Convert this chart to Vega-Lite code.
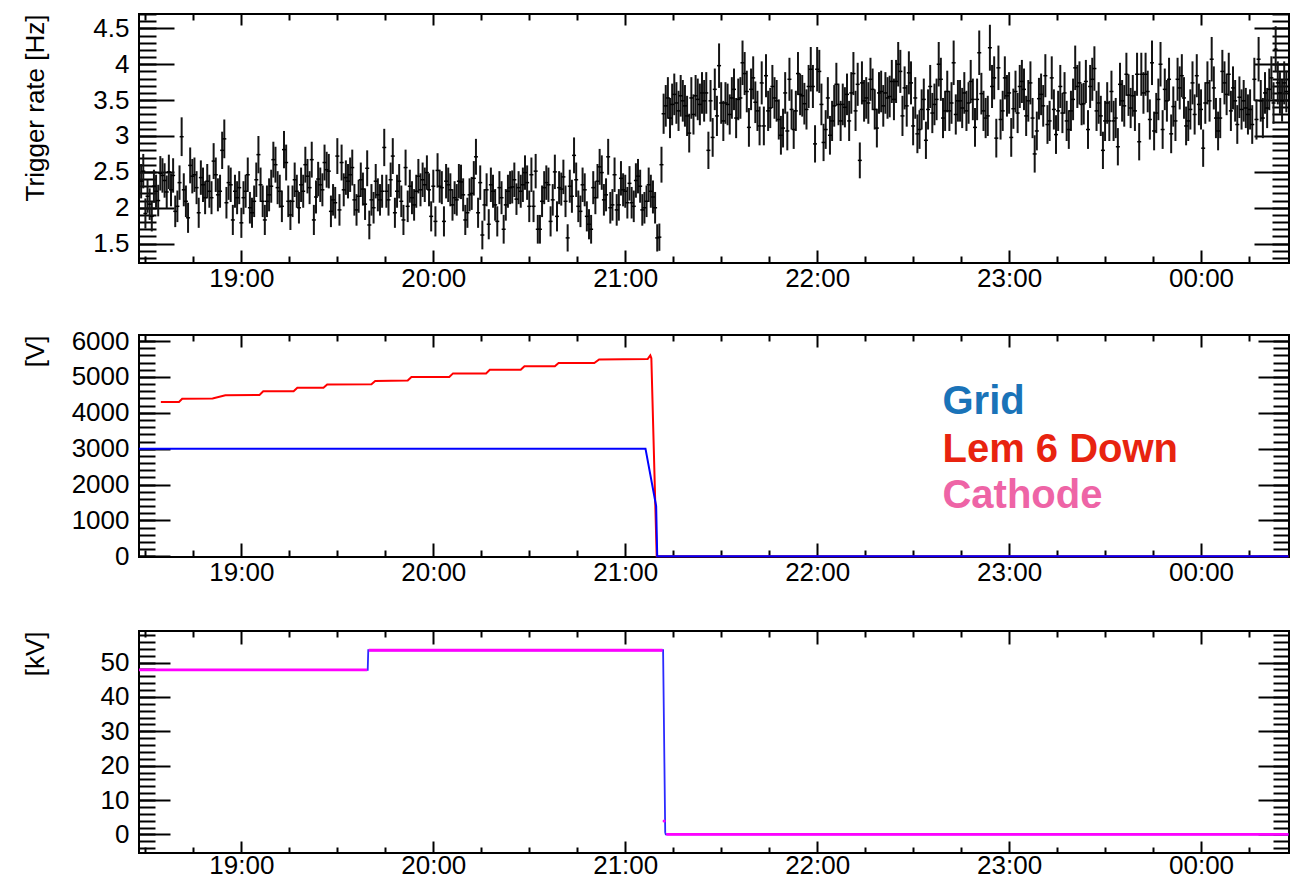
{
"$schema": "https://vega.github.io/schema/vega-lite/v6.json",
"padding": {"left": 20, "top": 12, "right": 5, "bottom": 0},
"spacing": 35,
"config": {
  "view": {"stroke": "black", "strokeWidth": 2},
  "axis": {"domain": false, "grid": false, "tickColor": "black", "tickWidth": 2, "labelColor": "black", "labelFont": "Liberation Sans", "labelFontSize": 26, "titleFont": "Liberation Sans", "titleFontSize": 26, "titleFontWeight": "normal", "titleColor": "black", "labelOverlap": false, "labelFlush": false}
},
"datasets": {"rate": [
{"t":"2020-01-01T18:28:40","r":2.37,"e":0.24},{"t":"2020-01-01T18:29:20","r":2.51,"e":0.24},{"t":"2020-01-01T18:30:00","r":1.92,"e":0.21},{"t":"2020-01-01T18:30:40","r":2.16,"e":0.23},{"t":"2020-01-01T18:31:20","r":2.05,"e":0.22},{"t":"2020-01-01T18:32:00","r":1.88,"e":0.21},{"t":"2020-01-01T18:32:40","r":2.30,"e":0.23},{"t":"2020-01-01T18:33:20","r":2.23,"e":0.23},{"t":"2020-01-01T18:34:00","r":2.10,"e":0.22},{"t":"2020-01-01T18:34:40","r":2.48,"e":0.24},
{"t":"2020-01-01T18:35:20","r":2.45,"e":0.24},{"t":"2020-01-01T18:36:00","r":2.38,"e":0.24},{"t":"2020-01-01T18:36:40","r":2.22,"e":0.23},{"t":"2020-01-01T18:37:20","r":2.50,"e":0.24},{"t":"2020-01-01T18:38:00","r":2.25,"e":0.23},{"t":"2020-01-01T18:38:40","r":2.45,"e":0.24},{"t":"2020-01-01T18:39:20","r":1.95,"e":0.22},{"t":"2020-01-01T18:40:00","r":2.02,"e":0.22},{"t":"2020-01-01T18:40:40","r":2.35,"e":0.24},{"t":"2020-01-01T18:41:20","r":2.99,"e":0.27},
{"t":"2020-01-01T18:42:00","r":2.25,"e":0.23},{"t":"2020-01-01T18:42:40","r":2.09,"e":0.22},{"t":"2020-01-01T18:43:20","r":1.86,"e":0.21},{"t":"2020-01-01T18:44:00","r":2.59,"e":0.25},{"t":"2020-01-01T18:44:40","r":2.44,"e":0.24},{"t":"2020-01-01T18:45:20","r":2.46,"e":0.24},{"t":"2020-01-01T18:46:00","r":2.28,"e":0.23},{"t":"2020-01-01T18:46:40","r":1.93,"e":0.21},{"t":"2020-01-01T18:47:20","r":2.42,"e":0.24},{"t":"2020-01-01T18:48:00","r":2.32,"e":0.24},
{"t":"2020-01-01T18:48:40","r":2.14,"e":0.23},{"t":"2020-01-01T18:49:20","r":2.37,"e":0.24},{"t":"2020-01-01T18:50:00","r":2.23,"e":0.23},{"t":"2020-01-01T18:50:40","r":2.14,"e":0.23},{"t":"2020-01-01T18:51:20","r":2.65,"e":0.25},{"t":"2020-01-01T18:52:00","r":2.46,"e":0.24},{"t":"2020-01-01T18:52:40","r":2.18,"e":0.23},{"t":"2020-01-01T18:53:20","r":2.23,"e":0.23},{"t":"2020-01-01T18:54:00","r":2.80,"e":0.26},{"t":"2020-01-01T18:54:40","r":2.96,"e":0.27},
{"t":"2020-01-01T18:55:20","r":2.07,"e":0.22},{"t":"2020-01-01T18:56:00","r":2.35,"e":0.24},{"t":"2020-01-01T18:56:40","r":2.32,"e":0.24},{"t":"2020-01-01T18:57:20","r":1.83,"e":0.21},{"t":"2020-01-01T18:58:00","r":2.23,"e":0.23},{"t":"2020-01-01T18:58:40","r":2.14,"e":0.23},{"t":"2020-01-01T18:59:20","r":2.28,"e":0.23},{"t":"2020-01-01T19:00:00","r":1.79,"e":0.21},{"t":"2020-01-01T19:00:40","r":2.14,"e":0.23},{"t":"2020-01-01T19:01:20","r":2.23,"e":0.23},
{"t":"2020-01-01T19:02:00","r":2.46,"e":0.24},{"t":"2020-01-01T19:02:40","r":2.00,"e":0.22},{"t":"2020-01-01T19:03:20","r":1.93,"e":0.21},{"t":"2020-01-01T19:04:00","r":2.09,"e":0.22},{"t":"2020-01-01T19:04:40","r":2.39,"e":0.24},{"t":"2020-01-01T19:05:20","r":2.74,"e":0.26},{"t":"2020-01-01T19:06:00","r":2.32,"e":0.24},{"t":"2020-01-01T19:06:40","r":2.09,"e":0.22},{"t":"2020-01-01T19:07:20","r":1.83,"e":0.21},{"t":"2020-01-01T19:08:00","r":2.09,"e":0.22},
{"t":"2020-01-01T19:08:40","r":2.18,"e":0.23},{"t":"2020-01-01T19:09:20","r":2.30,"e":0.23},{"t":"2020-01-01T19:10:00","r":2.67,"e":0.25},{"t":"2020-01-01T19:10:40","r":2.60,"e":0.25},{"t":"2020-01-01T19:11:20","r":2.28,"e":0.23},{"t":"2020-01-01T19:12:00","r":2.23,"e":0.23},{"t":"2020-01-01T19:12:40","r":2.02,"e":0.22},{"t":"2020-01-01T19:13:20","r":2.81,"e":0.26},{"t":"2020-01-01T19:14:00","r":2.63,"e":0.25},{"t":"2020-01-01T19:14:40","r":2.09,"e":0.22},
{"t":"2020-01-01T19:15:20","r":1.90,"e":0.21},{"t":"2020-01-01T19:16:00","r":2.09,"e":0.22},{"t":"2020-01-01T19:16:40","r":2.39,"e":0.24},{"t":"2020-01-01T19:17:20","r":2.23,"e":0.23},{"t":"2020-01-01T19:18:00","r":2.00,"e":0.22},{"t":"2020-01-01T19:18:40","r":2.32,"e":0.24},{"t":"2020-01-01T19:19:20","r":2.23,"e":0.23},{"t":"2020-01-01T19:20:00","r":2.60,"e":0.25},{"t":"2020-01-01T19:20:40","r":2.44,"e":0.24},{"t":"2020-01-01T19:21:20","r":2.28,"e":0.23},
{"t":"2020-01-01T19:22:00","r":2.67,"e":0.25},{"t":"2020-01-01T19:22:40","r":1.83,"e":0.21},{"t":"2020-01-01T19:23:20","r":2.15,"e":0.23},{"t":"2020-01-01T19:24:00","r":2.40,"e":0.24},{"t":"2020-01-01T19:24:40","r":2.32,"e":0.24},{"t":"2020-01-01T19:25:20","r":2.25,"e":0.23},{"t":"2020-01-01T19:26:00","r":2.63,"e":0.25},{"t":"2020-01-01T19:26:40","r":2.53,"e":0.25},{"t":"2020-01-01T19:27:20","r":2.51,"e":0.24},{"t":"2020-01-01T19:28:00","r":1.95,"e":0.22},
{"t":"2020-01-01T19:28:40","r":2.11,"e":0.22},{"t":"2020-01-01T19:29:20","r":2.07,"e":0.22},{"t":"2020-01-01T19:30:00","r":2.72,"e":0.25},{"t":"2020-01-01T19:30:40","r":1.97,"e":0.22},{"t":"2020-01-01T19:31:20","r":2.63,"e":0.25},{"t":"2020-01-01T19:32:00","r":2.25,"e":0.23},{"t":"2020-01-01T19:32:40","r":2.42,"e":0.24},{"t":"2020-01-01T19:33:20","r":2.37,"e":0.24},{"t":"2020-01-01T19:34:00","r":2.46,"e":0.24},{"t":"2020-01-01T19:34:40","r":2.56,"e":0.25},
{"t":"2020-01-01T19:35:20","r":2.11,"e":0.22},{"t":"2020-01-01T19:36:00","r":1.97,"e":0.22},{"t":"2020-01-01T19:36:40","r":2.16,"e":0.23},{"t":"2020-01-01T19:37:20","r":2.39,"e":0.24},{"t":"2020-01-01T19:38:00","r":2.26,"e":0.23},{"t":"2020-01-01T19:38:40","r":2.05,"e":0.22},{"t":"2020-01-01T19:39:20","r":2.55,"e":0.25},{"t":"2020-01-01T19:40:00","r":1.76,"e":0.20},{"t":"2020-01-01T19:40:40","r":2.11,"e":0.22},{"t":"2020-01-01T19:41:20","r":2.00,"e":0.22},
{"t":"2020-01-01T19:42:00","r":2.37,"e":0.24},{"t":"2020-01-01T19:42:40","r":2.18,"e":0.23},{"t":"2020-01-01T19:43:20","r":2.11,"e":0.22},{"t":"2020-01-01T19:44:00","r":2.23,"e":0.23},{"t":"2020-01-01T19:44:40","r":2.84,"e":0.26},{"t":"2020-01-01T19:45:20","r":2.23,"e":0.23},{"t":"2020-01-01T19:46:00","r":2.11,"e":0.22},{"t":"2020-01-01T19:46:40","r":2.39,"e":0.24},{"t":"2020-01-01T19:47:20","r":2.72,"e":0.25},{"t":"2020-01-01T19:48:00","r":1.93,"e":0.21},
{"t":"2020-01-01T19:48:40","r":2.23,"e":0.23},{"t":"2020-01-01T19:49:20","r":2.37,"e":0.24},{"t":"2020-01-01T19:50:00","r":2.09,"e":0.22},{"t":"2020-01-01T19:50:40","r":1.83,"e":0.21},{"t":"2020-01-01T19:51:20","r":2.56,"e":0.25},{"t":"2020-01-01T19:52:00","r":2.02,"e":0.22},{"t":"2020-01-01T19:52:40","r":2.30,"e":0.23},{"t":"2020-01-01T19:53:20","r":2.14,"e":0.23},{"t":"2020-01-01T19:54:00","r":2.04,"e":0.22},{"t":"2020-01-01T19:54:40","r":2.23,"e":0.23},
{"t":"2020-01-01T19:55:20","r":2.44,"e":0.24},{"t":"2020-01-01T19:56:00","r":2.25,"e":0.23},{"t":"2020-01-01T19:56:40","r":2.39,"e":0.24},{"t":"2020-01-01T19:57:20","r":2.32,"e":0.24},{"t":"2020-01-01T19:58:00","r":2.49,"e":0.24},{"t":"2020-01-01T19:58:40","r":2.25,"e":0.23},{"t":"2020-01-01T19:59:20","r":1.88,"e":0.21},{"t":"2020-01-01T20:00:00","r":2.30,"e":0.23},{"t":"2020-01-01T20:00:40","r":1.81,"e":0.21},{"t":"2020-01-01T20:01:20","r":2.52,"e":0.24},
{"t":"2020-01-01T20:02:00","r":2.30,"e":0.23},{"t":"2020-01-01T20:02:40","r":2.28,"e":0.23},{"t":"2020-01-01T20:03:20","r":1.81,"e":0.21},{"t":"2020-01-01T20:04:00","r":2.37,"e":0.24},{"t":"2020-01-01T20:04:40","r":2.32,"e":0.24},{"t":"2020-01-01T20:05:20","r":2.25,"e":0.23},{"t":"2020-01-01T20:06:00","r":2.04,"e":0.22},{"t":"2020-01-01T20:06:40","r":2.14,"e":0.23},{"t":"2020-01-01T20:07:20","r":2.11,"e":0.22},{"t":"2020-01-01T20:08:00","r":2.37,"e":0.24},
{"t":"2020-01-01T20:08:40","r":2.36,"e":0.24},{"t":"2020-01-01T20:09:20","r":2.18,"e":0.23},{"t":"2020-01-01T20:10:00","r":1.83,"e":0.21},{"t":"2020-01-01T20:10:40","r":1.93,"e":0.21},{"t":"2020-01-01T20:11:20","r":2.18,"e":0.23},{"t":"2020-01-01T20:12:00","r":2.20,"e":0.23},{"t":"2020-01-01T20:12:40","r":2.41,"e":0.24},{"t":"2020-01-01T20:13:20","r":2.71,"e":0.25},{"t":"2020-01-01T20:14:00","r":1.93,"e":0.21},{"t":"2020-01-01T20:14:40","r":2.35,"e":0.24},
{"t":"2020-01-01T20:15:20","r":1.62,"e":0.20},{"t":"2020-01-01T20:16:00","r":2.04,"e":0.22},{"t":"2020-01-01T20:16:40","r":2.25,"e":0.23},{"t":"2020-01-01T20:17:20","r":1.77,"e":0.21},{"t":"2020-01-01T20:18:00","r":2.32,"e":0.24},{"t":"2020-01-01T20:18:40","r":2.23,"e":0.23},{"t":"2020-01-01T20:19:20","r":2.04,"e":0.22},{"t":"2020-01-01T20:20:00","r":1.81,"e":0.21},{"t":"2020-01-01T20:20:40","r":2.28,"e":0.23},{"t":"2020-01-01T20:21:20","r":2.14,"e":0.23},
{"t":"2020-01-01T20:22:00","r":1.70,"e":0.20},{"t":"2020-01-01T20:22:40","r":2.04,"e":0.22},{"t":"2020-01-01T20:23:20","r":2.23,"e":0.23},{"t":"2020-01-01T20:24:00","r":2.28,"e":0.23},{"t":"2020-01-01T20:24:40","r":2.29,"e":0.23},{"t":"2020-01-01T20:25:20","r":2.39,"e":0.24},{"t":"2020-01-01T20:26:00","r":2.12,"e":0.22},{"t":"2020-01-01T20:26:40","r":2.28,"e":0.23},{"t":"2020-01-01T20:27:20","r":2.23,"e":0.23},{"t":"2020-01-01T20:28:00","r":2.32,"e":0.24},
{"t":"2020-01-01T20:28:40","r":2.49,"e":0.24},{"t":"2020-01-01T20:29:20","r":2.35,"e":0.24},{"t":"2020-01-01T20:30:00","r":2.02,"e":0.22},{"t":"2020-01-01T20:30:40","r":2.46,"e":0.24},{"t":"2020-01-01T20:31:20","r":2.02,"e":0.22},{"t":"2020-01-01T20:32:00","r":2.51,"e":0.24},{"t":"2020-01-01T20:32:40","r":1.70,"e":0.20},{"t":"2020-01-01T20:33:20","r":1.70,"e":0.20},{"t":"2020-01-01T20:34:00","r":2.09,"e":0.22},{"t":"2020-01-01T20:34:40","r":2.28,"e":0.23},
{"t":"2020-01-01T20:35:20","r":2.35,"e":0.24},{"t":"2020-01-01T20:36:00","r":2.32,"e":0.24},{"t":"2020-01-01T20:36:40","r":1.81,"e":0.21},{"t":"2020-01-01T20:37:20","r":2.11,"e":0.22},{"t":"2020-01-01T20:38:00","r":2.50,"e":0.24},{"t":"2020-01-01T20:38:40","r":1.88,"e":0.21},{"t":"2020-01-01T20:39:20","r":2.28,"e":0.23},{"t":"2020-01-01T20:40:00","r":2.26,"e":0.23},{"t":"2020-01-01T20:40:40","r":2.43,"e":0.24},{"t":"2020-01-01T20:41:20","r":2.09,"e":0.22},
{"t":"2020-01-01T20:42:00","r":1.58,"e":0.19},{"t":"2020-01-01T20:42:40","r":2.30,"e":0.23},{"t":"2020-01-01T20:43:20","r":2.16,"e":0.23},{"t":"2020-01-01T20:44:00","r":2.73,"e":0.25},{"t":"2020-01-01T20:44:40","r":2.39,"e":0.24},{"t":"2020-01-01T20:45:20","r":2.02,"e":0.22},{"t":"2020-01-01T20:46:00","r":1.95,"e":0.22},{"t":"2020-01-01T20:46:40","r":2.32,"e":0.24},{"t":"2020-01-01T20:47:20","r":2.25,"e":0.23},{"t":"2020-01-01T20:48:00","r":1.88,"e":0.21},
{"t":"2020-01-01T20:48:40","r":1.77,"e":0.21},{"t":"2020-01-01T20:49:20","r":1.70,"e":0.20},{"t":"2020-01-01T20:50:00","r":2.28,"e":0.23},{"t":"2020-01-01T20:50:40","r":2.14,"e":0.23},{"t":"2020-01-01T20:51:20","r":2.37,"e":0.24},{"t":"2020-01-01T20:52:00","r":2.57,"e":0.25},{"t":"2020-01-01T20:52:40","r":2.49,"e":0.24},{"t":"2020-01-01T20:53:20","r":2.11,"e":0.22},{"t":"2020-01-01T20:54:00","r":2.18,"e":0.23},{"t":"2020-01-01T20:54:40","r":2.71,"e":0.25},
{"t":"2020-01-01T20:55:20","r":2.00,"e":0.22},{"t":"2020-01-01T20:56:00","r":2.04,"e":0.22},{"t":"2020-01-01T20:56:40","r":2.46,"e":0.24},{"t":"2020-01-01T20:57:20","r":1.97,"e":0.22},{"t":"2020-01-01T20:58:00","r":2.04,"e":0.22},{"t":"2020-01-01T20:58:40","r":2.41,"e":0.24},{"t":"2020-01-01T20:59:20","r":2.25,"e":0.23},{"t":"2020-01-01T21:00:00","r":2.23,"e":0.23},{"t":"2020-01-01T21:00:40","r":2.07,"e":0.22},{"t":"2020-01-01T21:01:20","r":2.34,"e":0.24},
{"t":"2020-01-01T21:02:00","r":2.07,"e":0.22},{"t":"2020-01-01T21:02:40","r":2.02,"e":0.22},{"t":"2020-01-01T21:03:20","r":2.38,"e":0.24},{"t":"2020-01-01T21:04:00","r":2.44,"e":0.24},{"t":"2020-01-01T21:04:40","r":2.30,"e":0.23},{"t":"2020-01-01T21:05:20","r":1.97,"e":0.22},{"t":"2020-01-01T21:06:00","r":2.00,"e":0.22},{"t":"2020-01-01T21:06:40","r":2.09,"e":0.22},{"t":"2020-01-01T21:07:20","r":2.32,"e":0.24},{"t":"2020-01-01T21:08:00","r":2.23,"e":0.23},
{"t":"2020-01-01T21:08:40","r":2.15,"e":0.23},{"t":"2020-01-01T21:09:20","r":2.00,"e":0.22},{"t":"2020-01-01T21:10:00","r":1.58,"e":0.19},{"t":"2020-01-01T21:10:40","r":1.59,"e":0.19},{"t":"2020-01-01T21:11:20","r":2.60,"e":0.25},{"t":"2020-01-01T21:12:00","r":3.31,"e":0.28},{"t":"2020-01-01T21:12:40","r":3.42,"e":0.29},{"t":"2020-01-01T21:13:20","r":3.53,"e":0.29},{"t":"2020-01-01T21:14:00","r":3.25,"e":0.28},{"t":"2020-01-01T21:14:40","r":3.44,"e":0.29},
{"t":"2020-01-01T21:15:20","r":3.58,"e":0.29},{"t":"2020-01-01T21:16:00","r":3.46,"e":0.29},{"t":"2020-01-01T21:16:40","r":3.35,"e":0.28},{"t":"2020-01-01T21:17:20","r":3.56,"e":0.29},{"t":"2020-01-01T21:18:00","r":3.49,"e":0.29},{"t":"2020-01-01T21:18:40","r":3.42,"e":0.29},{"t":"2020-01-01T21:19:20","r":3.28,"e":0.28},{"t":"2020-01-01T21:20:00","r":3.04,"e":0.27},{"t":"2020-01-01T21:20:40","r":3.53,"e":0.29},{"t":"2020-01-01T21:21:20","r":3.30,"e":0.28},
{"t":"2020-01-01T21:22:00","r":3.56,"e":0.29},{"t":"2020-01-01T21:22:40","r":3.51,"e":0.29},{"t":"2020-01-01T21:23:20","r":3.44,"e":0.29},{"t":"2020-01-01T21:24:00","r":3.60,"e":0.29},{"t":"2020-01-01T21:24:40","r":3.49,"e":0.29},{"t":"2020-01-01T21:25:20","r":3.60,"e":0.29},{"t":"2020-01-01T21:26:00","r":2.80,"e":0.26},{"t":"2020-01-01T21:26:40","r":3.49,"e":0.29},{"t":"2020-01-01T21:27:20","r":2.98,"e":0.27},{"t":"2020-01-01T21:28:00","r":3.65,"e":0.29},
{"t":"2020-01-01T21:28:40","r":3.28,"e":0.28},{"t":"2020-01-01T21:29:20","r":3.98,"e":0.31},{"t":"2020-01-01T21:30:00","r":3.46,"e":0.29},{"t":"2020-01-01T21:30:40","r":3.21,"e":0.28},{"t":"2020-01-01T21:31:20","r":3.46,"e":0.29},{"t":"2020-01-01T21:32:00","r":3.44,"e":0.29},{"t":"2020-01-01T21:32:40","r":3.30,"e":0.28},{"t":"2020-01-01T21:33:20","r":3.53,"e":0.29},{"t":"2020-01-01T21:34:00","r":3.65,"e":0.29},{"t":"2020-01-01T21:34:40","r":3.25,"e":0.28},
{"t":"2020-01-01T21:35:20","r":3.51,"e":0.29},{"t":"2020-01-01T21:36:00","r":3.53,"e":0.29},{"t":"2020-01-01T21:36:40","r":4.02,"e":0.31},{"t":"2020-01-01T21:37:20","r":3.87,"e":0.30},{"t":"2020-01-01T21:38:00","r":3.62,"e":0.29},{"t":"2020-01-01T21:38:40","r":3.12,"e":0.27},{"t":"2020-01-01T21:39:20","r":3.65,"e":0.29},{"t":"2020-01-01T21:40:00","r":3.81,"e":0.30},{"t":"2020-01-01T21:40:40","r":3.47,"e":0.29},{"t":"2020-01-01T21:41:20","r":3.35,"e":0.28},
{"t":"2020-01-01T21:42:00","r":3.14,"e":0.27},{"t":"2020-01-01T21:42:40","r":3.74,"e":0.30},{"t":"2020-01-01T21:43:20","r":3.14,"e":0.27},{"t":"2020-01-01T21:44:00","r":3.84,"e":0.30},{"t":"2020-01-01T21:44:40","r":3.35,"e":0.28},{"t":"2020-01-01T21:45:20","r":3.39,"e":0.28},{"t":"2020-01-01T21:46:00","r":3.69,"e":0.30},{"t":"2020-01-01T21:46:40","r":3.53,"e":0.29},{"t":"2020-01-01T21:47:20","r":3.49,"e":0.29},{"t":"2020-01-01T21:48:00","r":3.23,"e":0.28},
{"t":"2020-01-01T21:48:40","r":3.01,"e":0.27},{"t":"2020-01-01T21:49:20","r":3.11,"e":0.27},{"t":"2020-01-01T21:50:00","r":3.60,"e":0.29},{"t":"2020-01-01T21:50:40","r":3.07,"e":0.27},{"t":"2020-01-01T21:51:20","r":3.79,"e":0.30},{"t":"2020-01-01T21:52:00","r":3.37,"e":0.28},{"t":"2020-01-01T21:52:40","r":3.09,"e":0.27},{"t":"2020-01-01T21:53:20","r":3.35,"e":0.28},{"t":"2020-01-01T21:54:00","r":3.87,"e":0.30},{"t":"2020-01-01T21:54:40","r":3.58,"e":0.29},
{"t":"2020-01-01T21:55:20","r":3.56,"e":0.29},{"t":"2020-01-01T21:56:00","r":3.45,"e":0.29},{"t":"2020-01-01T21:56:40","r":3.37,"e":0.28},{"t":"2020-01-01T21:57:20","r":3.69,"e":0.30},{"t":"2020-01-01T21:58:00","r":3.93,"e":0.31},{"t":"2020-01-01T21:58:40","r":3.69,"e":0.30},{"t":"2020-01-01T21:59:20","r":2.89,"e":0.26},{"t":"2020-01-01T22:00:00","r":3.93,"e":0.31},{"t":"2020-01-01T22:00:40","r":3.90,"e":0.30},{"t":"2020-01-01T22:01:20","r":3.44,"e":0.29},
{"t":"2020-01-01T22:02:00","r":2.91,"e":0.26},{"t":"2020-01-01T22:02:40","r":3.09,"e":0.27},{"t":"2020-01-01T22:03:20","r":3.53,"e":0.29},{"t":"2020-01-01T22:04:00","r":3.01,"e":0.27},{"t":"2020-01-01T22:04:40","r":3.21,"e":0.28},{"t":"2020-01-01T22:05:20","r":3.42,"e":0.29},{"t":"2020-01-01T22:06:00","r":3.72,"e":0.30},{"t":"2020-01-01T22:06:40","r":3.44,"e":0.29},{"t":"2020-01-01T22:07:20","r":3.21,"e":0.28},{"t":"2020-01-01T22:08:00","r":3.44,"e":0.29},
{"t":"2020-01-01T22:08:40","r":3.40,"e":0.28},{"t":"2020-01-01T22:09:20","r":3.58,"e":0.29},{"t":"2020-01-01T22:10:00","r":3.21,"e":0.28},{"t":"2020-01-01T22:10:40","r":3.60,"e":0.29},{"t":"2020-01-01T22:11:20","r":3.87,"e":0.30},{"t":"2020-01-01T22:12:00","r":3.35,"e":0.28},{"t":"2020-01-01T22:12:40","r":3.72,"e":0.30},{"t":"2020-01-01T22:13:20","r":2.66,"e":0.25},{"t":"2020-01-01T22:14:00","r":3.74,"e":0.30},{"t":"2020-01-01T22:14:40","r":3.49,"e":0.29},
{"t":"2020-01-01T22:15:20","r":3.53,"e":0.29},{"t":"2020-01-01T22:16:00","r":3.46,"e":0.29},{"t":"2020-01-01T22:16:40","r":3.79,"e":0.30},{"t":"2020-01-01T22:17:20","r":3.65,"e":0.29},{"t":"2020-01-01T22:18:00","r":3.37,"e":0.28},{"t":"2020-01-01T22:18:40","r":3.11,"e":0.27},{"t":"2020-01-01T22:19:20","r":3.60,"e":0.29},{"t":"2020-01-01T22:20:00","r":3.62,"e":0.29},{"t":"2020-01-01T22:20:40","r":3.42,"e":0.29},{"t":"2020-01-01T22:21:20","r":3.60,"e":0.29},
{"t":"2020-01-01T22:22:00","r":3.53,"e":0.29},{"t":"2020-01-01T22:22:40","r":3.55,"e":0.29},{"t":"2020-01-01T22:23:20","r":3.76,"e":0.30},{"t":"2020-01-01T22:24:00","r":3.51,"e":0.29},{"t":"2020-01-01T22:24:40","r":3.76,"e":0.30},{"t":"2020-01-01T22:25:20","r":4.00,"e":0.31},{"t":"2020-01-01T22:26:00","r":3.90,"e":0.30},{"t":"2020-01-01T22:26:40","r":3.28,"e":0.28},{"t":"2020-01-01T22:27:20","r":3.67,"e":0.30},{"t":"2020-01-01T22:28:00","r":3.42,"e":0.29},
{"t":"2020-01-01T22:28:40","r":3.88,"e":0.30},{"t":"2020-01-01T22:29:20","r":3.74,"e":0.30},{"t":"2020-01-01T22:30:00","r":3.14,"e":0.27},{"t":"2020-01-01T22:30:40","r":3.53,"e":0.29},{"t":"2020-01-01T22:31:20","r":3.03,"e":0.27},{"t":"2020-01-01T22:32:00","r":3.09,"e":0.27},{"t":"2020-01-01T22:32:40","r":3.37,"e":0.28},{"t":"2020-01-01T22:33:20","r":3.51,"e":0.29},{"t":"2020-01-01T22:34:00","r":2.94,"e":0.26},{"t":"2020-01-01T22:34:40","r":3.37,"e":0.28},
{"t":"2020-01-01T22:35:20","r":3.69,"e":0.30},{"t":"2020-01-01T22:36:00","r":3.32,"e":0.28},{"t":"2020-01-01T22:36:40","r":3.44,"e":0.29},{"t":"2020-01-01T22:37:20","r":3.51,"e":0.29},{"t":"2020-01-01T22:38:00","r":4.00,"e":0.31},{"t":"2020-01-01T22:38:40","r":3.79,"e":0.30},{"t":"2020-01-01T22:39:20","r":3.25,"e":0.28},{"t":"2020-01-01T22:40:00","r":3.35,"e":0.28},{"t":"2020-01-01T22:40:40","r":3.62,"e":0.29},{"t":"2020-01-01T22:41:20","r":3.35,"e":0.28},
{"t":"2020-01-01T22:42:00","r":3.46,"e":0.29},{"t":"2020-01-01T22:42:40","r":4.02,"e":0.31},{"t":"2020-01-01T22:43:20","r":3.30,"e":0.28},{"t":"2020-01-01T22:44:00","r":3.49,"e":0.29},{"t":"2020-01-01T22:44:40","r":3.49,"e":0.29},{"t":"2020-01-01T22:45:20","r":3.39,"e":0.28},{"t":"2020-01-01T22:46:00","r":3.60,"e":0.29},{"t":"2020-01-01T22:46:40","r":3.35,"e":0.28},{"t":"2020-01-01T22:47:20","r":3.46,"e":0.29},{"t":"2020-01-01T22:48:00","r":3.76,"e":0.30},
{"t":"2020-01-01T22:48:40","r":3.51,"e":0.29},{"t":"2020-01-01T22:49:20","r":3.12,"e":0.27},{"t":"2020-01-01T22:50:00","r":3.51,"e":0.29},{"t":"2020-01-01T22:50:40","r":4.16,"e":0.31},{"t":"2020-01-01T22:51:20","r":3.59,"e":0.29},{"t":"2020-01-01T22:52:00","r":3.35,"e":0.28},{"t":"2020-01-01T22:52:40","r":3.25,"e":0.28},{"t":"2020-01-01T22:53:20","r":3.28,"e":0.28},{"t":"2020-01-01T22:54:00","r":4.23,"e":0.32},{"t":"2020-01-01T22:54:40","r":3.69,"e":0.30},
{"t":"2020-01-01T22:55:20","r":3.81,"e":0.30},{"t":"2020-01-01T22:56:00","r":2.97,"e":0.27},{"t":"2020-01-01T22:56:40","r":3.95,"e":0.31},{"t":"2020-01-01T22:57:20","r":3.23,"e":0.28},{"t":"2020-01-01T22:58:00","r":3.35,"e":0.28},{"t":"2020-01-01T22:58:40","r":3.81,"e":0.30},{"t":"2020-01-01T22:59:20","r":3.56,"e":0.29},{"t":"2020-01-01T23:00:00","r":3.60,"e":0.29},{"t":"2020-01-01T23:00:40","r":2.98,"e":0.27},{"t":"2020-01-01T23:01:20","r":3.38,"e":0.28},
{"t":"2020-01-01T23:02:00","r":3.62,"e":0.29},{"t":"2020-01-01T23:02:40","r":3.32,"e":0.28},{"t":"2020-01-01T23:03:20","r":3.69,"e":0.30},{"t":"2020-01-01T23:04:00","r":3.76,"e":0.30},{"t":"2020-01-01T23:04:40","r":3.65,"e":0.29},{"t":"2020-01-01T23:05:20","r":3.28,"e":0.28},{"t":"2020-01-01T23:06:00","r":3.49,"e":0.29},{"t":"2020-01-01T23:06:40","r":3.74,"e":0.30},{"t":"2020-01-01T23:07:20","r":3.25,"e":0.28},{"t":"2020-01-01T23:08:00","r":2.75,"e":0.26},
{"t":"2020-01-01T23:08:40","r":3.07,"e":0.27},{"t":"2020-01-01T23:09:20","r":3.52,"e":0.29},{"t":"2020-01-01T23:10:00","r":3.58,"e":0.29},{"t":"2020-01-01T23:10:40","r":3.42,"e":0.29},{"t":"2020-01-01T23:11:20","r":3.84,"e":0.30},{"t":"2020-01-01T23:12:00","r":3.16,"e":0.27},{"t":"2020-01-01T23:12:40","r":3.21,"e":0.28},{"t":"2020-01-01T23:13:20","r":3.81,"e":0.30},{"t":"2020-01-01T23:14:00","r":3.37,"e":0.28},{"t":"2020-01-01T23:14:40","r":3.02,"e":0.27},
{"t":"2020-01-01T23:15:20","r":3.35,"e":0.28},{"t":"2020-01-01T23:16:00","r":3.69,"e":0.30},{"t":"2020-01-01T23:16:40","r":3.32,"e":0.28},{"t":"2020-01-01T23:17:20","r":3.60,"e":0.29},{"t":"2020-01-01T23:18:00","r":3.21,"e":0.28},{"t":"2020-01-01T23:18:40","r":3.09,"e":0.27},{"t":"2020-01-01T23:19:20","r":3.35,"e":0.28},{"t":"2020-01-01T23:20:00","r":3.51,"e":0.29},{"t":"2020-01-01T23:20:40","r":3.95,"e":0.31},{"t":"2020-01-01T23:21:20","r":3.69,"e":0.30},
{"t":"2020-01-01T23:22:00","r":3.74,"e":0.30},{"t":"2020-01-01T23:22:40","r":3.44,"e":0.29},{"t":"2020-01-01T23:23:20","r":3.45,"e":0.29},{"t":"2020-01-01T23:24:00","r":3.76,"e":0.30},{"t":"2020-01-01T23:24:40","r":3.09,"e":0.27},{"t":"2020-01-01T23:25:20","r":3.69,"e":0.30},{"t":"2020-01-01T23:26:00","r":3.79,"e":0.30},{"t":"2020-01-01T23:26:40","r":3.94,"e":0.31},{"t":"2020-01-01T23:27:20","r":3.35,"e":0.28},{"t":"2020-01-01T23:28:00","r":3.46,"e":0.29},
{"t":"2020-01-01T23:28:40","r":3.28,"e":0.28},{"t":"2020-01-01T23:29:20","r":2.80,"e":0.26},{"t":"2020-01-01T23:30:00","r":3.21,"e":0.28},{"t":"2020-01-01T23:30:40","r":3.46,"e":0.29},{"t":"2020-01-01T23:31:20","r":3.21,"e":0.28},{"t":"2020-01-01T23:32:00","r":3.62,"e":0.29},{"t":"2020-01-01T23:32:40","r":3.21,"e":0.28},{"t":"2020-01-01T23:33:20","r":3.25,"e":0.28},{"t":"2020-01-01T23:34:00","r":2.85,"e":0.26},{"t":"2020-01-01T23:34:40","r":3.72,"e":0.30},
{"t":"2020-01-01T23:35:20","r":3.49,"e":0.29},{"t":"2020-01-01T23:36:00","r":3.42,"e":0.29},{"t":"2020-01-01T23:36:40","r":3.86,"e":0.30},{"t":"2020-01-01T23:37:20","r":3.57,"e":0.29},{"t":"2020-01-01T23:38:00","r":3.39,"e":0.28},{"t":"2020-01-01T23:38:40","r":3.56,"e":0.29},{"t":"2020-01-01T23:39:20","r":3.35,"e":0.28},{"t":"2020-01-01T23:40:00","r":3.86,"e":0.30},{"t":"2020-01-01T23:40:40","r":2.92,"e":0.26},{"t":"2020-01-01T23:41:20","r":3.86,"e":0.30},
{"t":"2020-01-01T23:42:00","r":3.60,"e":0.29},{"t":"2020-01-01T23:42:40","r":3.86,"e":0.30},{"t":"2020-01-01T23:43:20","r":3.62,"e":0.29},{"t":"2020-01-01T23:44:00","r":3.23,"e":0.28},{"t":"2020-01-01T23:44:40","r":4.02,"e":0.31},{"t":"2020-01-01T23:45:20","r":3.07,"e":0.27},{"t":"2020-01-01T23:46:00","r":3.32,"e":0.28},{"t":"2020-01-01T23:46:40","r":3.51,"e":0.29},{"t":"2020-01-01T23:47:20","r":4.00,"e":0.31},{"t":"2020-01-01T23:48:00","r":3.09,"e":0.27},
{"t":"2020-01-01T23:48:40","r":3.65,"e":0.29},{"t":"2020-01-01T23:49:20","r":3.49,"e":0.29},{"t":"2020-01-01T23:50:00","r":3.79,"e":0.30},{"t":"2020-01-01T23:50:40","r":3.03,"e":0.27},{"t":"2020-01-01T23:51:20","r":3.41,"e":0.28},{"t":"2020-01-01T23:52:00","r":3.21,"e":0.28},{"t":"2020-01-01T23:52:40","r":3.79,"e":0.30},{"t":"2020-01-01T23:53:20","r":3.67,"e":0.30},{"t":"2020-01-01T23:54:00","r":3.84,"e":0.30},{"t":"2020-01-01T23:54:40","r":3.53,"e":0.29},
{"t":"2020-01-01T23:55:20","r":3.14,"e":0.27},{"t":"2020-01-01T23:56:00","r":3.21,"e":0.28},{"t":"2020-01-01T23:56:40","r":3.37,"e":0.28},{"t":"2020-01-01T23:57:20","r":3.74,"e":0.30},{"t":"2020-01-01T23:58:00","r":3.30,"e":0.28},{"t":"2020-01-01T23:58:40","r":3.84,"e":0.30},{"t":"2020-01-01T23:59:20","r":3.44,"e":0.29},{"t":"2020-01-02T00:00:00","r":3.37,"e":0.28},{"t":"2020-01-02T00:00:40","r":2.83,"e":0.26},{"t":"2020-01-02T00:01:20","r":3.46,"e":0.29},
{"t":"2020-01-02T00:02:00","r":3.74,"e":0.30},{"t":"2020-01-02T00:02:40","r":3.49,"e":0.29},{"t":"2020-01-02T00:03:20","r":4.07,"e":0.31},{"t":"2020-01-02T00:04:00","r":3.67,"e":0.30},{"t":"2020-01-02T00:04:40","r":3.25,"e":0.28},{"t":"2020-01-02T00:05:20","r":3.07,"e":0.27},{"t":"2020-01-02T00:06:00","r":3.25,"e":0.28},{"t":"2020-01-02T00:06:40","r":3.90,"e":0.30},{"t":"2020-01-02T00:07:20","r":3.74,"e":0.30},{"t":"2020-01-02T00:08:00","r":3.58,"e":0.29},
{"t":"2020-01-02T00:08:40","r":3.86,"e":0.30},{"t":"2020-01-02T00:09:20","r":3.35,"e":0.28},{"t":"2020-01-02T00:10:00","r":3.67,"e":0.30},{"t":"2020-01-02T00:10:40","r":3.49,"e":0.29},{"t":"2020-01-02T00:11:20","r":3.16,"e":0.27},{"t":"2020-01-02T00:12:00","r":3.54,"e":0.29},{"t":"2020-01-02T00:12:40","r":3.37,"e":0.28},{"t":"2020-01-02T00:13:20","r":3.49,"e":0.29},{"t":"2020-01-02T00:14:00","r":3.39,"e":0.28},{"t":"2020-01-02T00:14:40","r":3.30,"e":0.28},
{"t":"2020-01-02T00:15:20","r":3.37,"e":0.28},{"t":"2020-01-02T00:16:00","r":3.16,"e":0.27},{"t":"2020-01-02T00:16:40","r":3.79,"e":0.30},{"t":"2020-01-02T00:17:20","r":3.23,"e":0.28},{"t":"2020-01-02T00:18:00","r":4.07,"e":0.31},{"t":"2020-01-02T00:18:40","r":3.49,"e":0.29},{"t":"2020-01-02T00:19:20","r":3.25,"e":0.28},{"t":"2020-01-02T00:20:00","r":3.60,"e":0.29},{"t":"2020-01-02T00:20:40","r":3.39,"e":0.28},{"t":"2020-01-02T00:21:20","r":3.65,"e":0.29},
{"t":"2020-01-02T00:22:00","r":3.81,"e":0.30},{"t":"2020-01-02T00:22:40","r":3.46,"e":0.29},{"t":"2020-01-02T00:23:20","r":4.21,"e":0.32},{"t":"2020-01-02T00:24:00","r":3.74,"e":0.30},{"t":"2020-01-02T00:24:40","r":3.60,"e":0.29},{"t":"2020-01-02T00:25:20","r":3.49,"e":0.29},{"t":"2020-01-02T00:26:00","r":3.74,"e":0.30},{"t":"2020-01-02T00:26:40","r":3.62,"e":0.29}
]},
"vconcat": [
{
  "width": 1150, "height": 249,
  "resolve": {"axis": {"x": "independent", "y": "independent"}},
  "layer": [
    {"data": {"name": "rate"},
     "transform": [{"calculate": "datum.r - datum.e", "as": "lo"}, {"calculate": "datum.r + datum.e", "as": "hi"}],
     "mark": {"type": "rule", "color": "#141414", "strokeWidth": 2},
     "encoding": {
       "x": {"field": "t", "type": "temporal",
             "scale": {"domain": [{"year": 2020, "month": 1, "date": 1, "hours": 18, "minutes": 28}, {"year": 2020, "month": 1, "date": 2, "hours": 0, "minutes": 27, "seconds": 30}]},
             "axis": {"orient": "bottom", "title": null, "format": "%H:%M", "values": [{"year":2020,"month":1,"date":1,"hours":19},{"year":2020,"month":1,"date":1,"hours":20},{"year":2020,"month":1,"date":1,"hours":21},{"year":2020,"month":1,"date":1,"hours":22},{"year":2020,"month":1,"date":1,"hours":23},{"year":2020,"month":1,"date":2,"hours":0}], "ticks": false, "labelPadding": 2}},
       "y": {"field": "lo", "type": "quantitative", "scale": {"domain": [1.23, 4.7], "zero": false, "nice": false},
             "axis": {"orient": "left", "title": "Trigger rate [Hz]", "values": [1.5, 2, 2.5, 3, 3.5, 4, 4.5], "format": "~g", "ticks": false, "labelPadding": 10, "titleX": -91, "titleY": 0, "titleAlign": "right", "titleBaseline": "bottom", "titleAngle": -90}},
       "y2": {"field": "hi"}}},
    {"data": {"name": "rate"},
     "mark": {"type": "point", "shape": "M-1,0L1,0", "size": 16, "strokeWidth": 1.5, "color": "black", "filled": false, "opacity": 1},
     "encoding": {"x": {"field": "t", "type": "temporal", "axis": null}, "y": {"field": "r", "type": "quantitative", "axis": null}}},
    {"data": {"values": [{"t": "2020-01-01T20:00:00", "r": 2}]}, "mark": {"type": "point", "opacity": 0},
     "encoding": {"x": {"field": "t", "type": "temporal", "axis": {"orient": "bottom", "title": null, "labels": false, "tickSize": -13, "values": [{"year":2020,"month":1,"date":1,"hours":19},{"year":2020,"month":1,"date":1,"hours":20},{"year":2020,"month":1,"date":1,"hours":21},{"year":2020,"month":1,"date":1,"hours":22},{"year":2020,"month":1,"date":1,"hours":23},{"year":2020,"month":1,"date":2,"hours":0}]}},
                  "y": {"field": "r", "type": "quantitative", "axis": {"orient": "left", "title": null, "labels": false, "tickSize": -35, "values": [1.5, 2, 2.5, 3, 3.5, 4, 4.5]}}}},
    {"data": {"values": [{"t": "2020-01-01T20:00:00", "r": 2}]}, "mark": {"type": "point", "opacity": 0},
     "encoding": {"x": {"field": "t", "type": "temporal", "axis": {"orient": "bottom", "title": null, "labels": false, "tickSize": -7, "values": [{"year":2020,"month":1,"date":1,"hours":18,"minutes":30},{"year":2020,"month":1,"date":1,"hours":18,"minutes":45},{"year":2020,"month":1,"date":1,"hours":19,"minutes":15},{"year":2020,"month":1,"date":1,"hours":19,"minutes":30},{"year":2020,"month":1,"date":1,"hours":19,"minutes":45},{"year":2020,"month":1,"date":1,"hours":20,"minutes":15},{"year":2020,"month":1,"date":1,"hours":20,"minutes":30},{"year":2020,"month":1,"date":1,"hours":20,"minutes":45},{"year":2020,"month":1,"date":1,"hours":21,"minutes":15},{"year":2020,"month":1,"date":1,"hours":21,"minutes":30},{"year":2020,"month":1,"date":1,"hours":21,"minutes":45},{"year":2020,"month":1,"date":1,"hours":22,"minutes":15},{"year":2020,"month":1,"date":1,"hours":22,"minutes":30},{"year":2020,"month":1,"date":1,"hours":22,"minutes":45},{"year":2020,"month":1,"date":1,"hours":23,"minutes":15},{"year":2020,"month":1,"date":1,"hours":23,"minutes":30},{"year":2020,"month":1,"date":1,"hours":23,"minutes":45},{"year":2020,"month":1,"date":2,"hours":0,"minutes":15}]}},
                  "y": {"field": "r", "type": "quantitative", "axis": {"orient": "left", "title": null, "labels": false, "tickSize": -17, "values": [1.3,1.4,1.5,1.6,1.7,1.8,1.9,2,2.1,2.2,2.3,2.4,2.5,2.6,2.7,2.8,2.9,3,3.1,3.2,3.3,3.4,3.5,3.6,3.7,3.8,3.9,4,4.1,4.2,4.3,4.4,4.5,4.6,4.7]}}}},
    {"data": {"values": [{"t": "2020-01-01T20:00:00", "r": 2}]}, "mark": {"type": "point", "opacity": 0},
     "encoding": {"x": {"field": "t", "type": "temporal", "axis": {"orient": "top", "title": null, "labels": false, "tickSize": -11, "values": [{"year":2020,"month":1,"date":1,"hours":19},{"year":2020,"month":1,"date":1,"hours":20},{"year":2020,"month":1,"date":1,"hours":21},{"year":2020,"month":1,"date":1,"hours":22},{"year":2020,"month":1,"date":1,"hours":23},{"year":2020,"month":1,"date":2,"hours":0}]}},
                  "y": {"field": "r", "type": "quantitative", "axis": {"orient": "right", "title": null, "labels": false, "tickSize": -35, "values": [1.5, 2, 2.5, 3, 3.5, 4, 4.5]}}}},
    {"data": {"values": [{"t": "2020-01-01T20:00:00", "r": 2}]}, "mark": {"type": "point", "opacity": 0},
     "encoding": {"x": {"field": "t", "type": "temporal", "axis": {"orient": "top", "title": null, "labels": false, "tickSize": -6, "values": [{"year":2020,"month":1,"date":1,"hours":18,"minutes":30},{"year":2020,"month":1,"date":1,"hours":18,"minutes":45},{"year":2020,"month":1,"date":1,"hours":19,"minutes":15},{"year":2020,"month":1,"date":1,"hours":19,"minutes":30},{"year":2020,"month":1,"date":1,"hours":19,"minutes":45},{"year":2020,"month":1,"date":1,"hours":20,"minutes":15},{"year":2020,"month":1,"date":1,"hours":20,"minutes":30},{"year":2020,"month":1,"date":1,"hours":20,"minutes":45},{"year":2020,"month":1,"date":1,"hours":21,"minutes":15},{"year":2020,"month":1,"date":1,"hours":21,"minutes":30},{"year":2020,"month":1,"date":1,"hours":21,"minutes":45},{"year":2020,"month":1,"date":1,"hours":22,"minutes":15},{"year":2020,"month":1,"date":1,"hours":22,"minutes":30},{"year":2020,"month":1,"date":1,"hours":22,"minutes":45},{"year":2020,"month":1,"date":1,"hours":23,"minutes":15},{"year":2020,"month":1,"date":1,"hours":23,"minutes":30},{"year":2020,"month":1,"date":1,"hours":23,"minutes":45},{"year":2020,"month":1,"date":2,"hours":0,"minutes":15}]}},
                  "y": {"field": "r", "type": "quantitative", "axis": {"orient": "right", "title": null, "labels": false, "tickSize": -17, "values": [1.3,1.4,1.5,1.6,1.7,1.8,1.9,2,2.1,2.2,2.3,2.4,2.5,2.6,2.7,2.8,2.9,3,3.1,3.2,3.3,3.4,3.5,3.6,3.7,3.8,3.9,4,4.1,4.2,4.3,4.4,4.5,4.6,4.7]}}}}
  ]
},
{
  "width": 1150, "height": 222,
  "resolve": {"axis": {"x": "independent", "y": "independent"}},
  "layer": [
    {"data": {"values": [
      {"t":"2020-01-01T18:34:50","v":4300},{"t":"2020-01-01T18:40:30","v":4300},{"t":"2020-01-01T18:41:30","v":4390},{"t":"2020-01-01T18:51:00","v":4400},{"t":"2020-01-01T18:55:00","v":4490},{"t":"2020-01-01T19:05:40","v":4500},{"t":"2020-01-01T19:06:50","v":4600},{"t":"2020-01-01T19:16:20","v":4600},{"t":"2020-01-01T19:17:30","v":4700},{"t":"2020-01-01T19:25:40","v":4700},{"t":"2020-01-01T19:26:50","v":4790},{"t":"2020-01-01T19:40:40","v":4800},{"t":"2020-01-01T19:41:50","v":4890},{"t":"2020-01-01T19:52:00","v":4900},{"t":"2020-01-01T19:53:10","v":5000},{"t":"2020-01-01T20:05:00","v":5000},{"t":"2020-01-01T20:06:10","v":5100},{"t":"2020-01-01T20:16:30","v":5100},{"t":"2020-01-01T20:17:40","v":5200},{"t":"2020-01-01T20:27:20","v":5200},{"t":"2020-01-01T20:28:30","v":5300},{"t":"2020-01-01T20:38:00","v":5300},{"t":"2020-01-01T20:39:10","v":5390},{"t":"2020-01-01T20:50:20","v":5390},{"t":"2020-01-01T20:51:50","v":5490},{"t":"2020-01-01T21:07:00","v":5500},{"t":"2020-01-01T21:07:50","v":5600},{"t":"2020-01-01T21:08:10","v":5520},{"t":"2020-01-01T21:09:50","v":0},{"t":"2020-01-02T00:27:20","v":0}
     ]},
     "mark": {"type": "line", "color": "#ff0000", "strokeWidth": 2},
     "encoding": {
       "x": {"field": "t", "type": "temporal",
             "scale": {"domain": [{"year": 2020, "month": 1, "date": 1, "hours": 18, "minutes": 28}, {"year": 2020, "month": 1, "date": 2, "hours": 0, "minutes": 27, "seconds": 30}]},
             "axis": {"orient": "bottom", "title": " ", "titleFontSize": 6, "titlePadding": 2, "format": "%H:%M", "values": [{"year":2020,"month":1,"date":1,"hours":19},{"year":2020,"month":1,"date":1,"hours":20},{"year":2020,"month":1,"date":1,"hours":21},{"year":2020,"month":1,"date":1,"hours":22},{"year":2020,"month":1,"date":1,"hours":23},{"year":2020,"month":1,"date":2,"hours":0}], "ticks": false, "labelPadding": 2}},
       "y": {"field": "v", "type": "quantitative", "scale": {"domain": [-20, 6170], "zero": false, "nice": false},
             "axis": {"orient": "left", "title": "[V]", "values": [0, 1000, 2000, 3000, 4000, 5000, 6000], "format": "d", "ticks": false, "labelPadding": 10, "titleX": -91, "titleY": 0, "titleAlign": "right", "titleBaseline": "bottom", "titleAngle": -90}}}},
    {"data": {"values": [
      {"t":"2020-01-01T18:28:00","v":3000},{"t":"2020-01-01T21:06:20","v":3000},{"t":"2020-01-01T21:09:40","v":1400},{"t":"2020-01-01T21:10:00","v":0},{"t":"2020-01-02T00:27:20","v":0}
     ]},
     "mark": {"type": "line", "color": "#0000ff", "strokeWidth": 2},
     "encoding": {"x": {"field": "t", "type": "temporal", "axis": null}, "y": {"field": "v", "type": "quantitative", "axis": null}}},
    {"data": {"values": [
      {"t":"2020-01-01T22:39:10","v":3964,"txt":"Grid","c":"#1a73b8"},
      {"t":"2020-01-01T22:39:10","v":2639,"txt":"Lem 6 Down","c":"#e8230f"},
      {"t":"2020-01-01T22:39:10","v":1344,"txt":"Cathode","c":"#ee64a6"}
     ]},
     "mark": {"type": "text", "font": "Liberation Sans", "fontSize": 40, "fontWeight": "bold", "align": "left", "baseline": "alphabetic"},
     "encoding": {"x": {"field": "t", "type": "temporal", "axis": null}, "y": {"field": "v", "type": "quantitative", "axis": null},
                  "text": {"field": "txt"}, "color": {"field": "c", "type": "nominal", "scale": null}}},
    {"data": {"values": [{"t": "2020-01-01T20:00:00", "v": 100}]}, "mark": {"type": "point", "opacity": 0},
     "encoding": {"x": {"field": "t", "type": "temporal", "axis": {"orient": "bottom", "title": null, "labels": false, "tickSize": -14, "values": [{"year":2020,"month":1,"date":1,"hours":19},{"year":2020,"month":1,"date":1,"hours":20},{"year":2020,"month":1,"date":1,"hours":21},{"year":2020,"month":1,"date":1,"hours":22},{"year":2020,"month":1,"date":1,"hours":23},{"year":2020,"month":1,"date":2,"hours":0}]}},
                  "y": {"field": "v", "type": "quantitative", "axis": {"orient": "left", "title": null, "labels": false, "tickSize": -31, "values": [0, 1000, 2000, 3000, 4000, 5000, 6000]}}}},
    {"data": {"values": [{"t": "2020-01-01T20:00:00", "v": 100}]}, "mark": {"type": "point", "opacity": 0},
     "encoding": {"x": {"field": "t", "type": "temporal", "axis": {"orient": "bottom", "title": null, "labels": false, "tickSize": -7, "values": [{"year":2020,"month":1,"date":1,"hours":18,"minutes":30},{"year":2020,"month":1,"date":1,"hours":18,"minutes":45},{"year":2020,"month":1,"date":1,"hours":19,"minutes":15},{"year":2020,"month":1,"date":1,"hours":19,"minutes":30},{"year":2020,"month":1,"date":1,"hours":19,"minutes":45},{"year":2020,"month":1,"date":1,"hours":20,"minutes":15},{"year":2020,"month":1,"date":1,"hours":20,"minutes":30},{"year":2020,"month":1,"date":1,"hours":20,"minutes":45},{"year":2020,"month":1,"date":1,"hours":21,"minutes":15},{"year":2020,"month":1,"date":1,"hours":21,"minutes":30},{"year":2020,"month":1,"date":1,"hours":21,"minutes":45},{"year":2020,"month":1,"date":1,"hours":22,"minutes":15},{"year":2020,"month":1,"date":1,"hours":22,"minutes":30},{"year":2020,"month":1,"date":1,"hours":22,"minutes":45},{"year":2020,"month":1,"date":1,"hours":23,"minutes":15},{"year":2020,"month":1,"date":1,"hours":23,"minutes":30},{"year":2020,"month":1,"date":1,"hours":23,"minutes":45},{"year":2020,"month":1,"date":2,"hours":0,"minutes":15}]}},
                  "y": {"field": "v", "type": "quantitative", "axis": {"orient": "left", "title": null, "labels": false, "tickSize": -16, "values": [0,200,400,600,800,1000,1200,1400,1600,1800,2000,2200,2400,2600,2800,3000,3200,3400,3600,3800,4000,4200,4400,4600,4800,5000,5200,5400,5600,5800,6000]}}}},
    {"data": {"values": [{"t": "2020-01-01T20:00:00", "v": 100}]}, "mark": {"type": "point", "opacity": 0},
     "encoding": {"x": {"field": "t", "type": "temporal", "axis": {"orient": "top", "title": null, "labels": false, "tickSize": -12, "values": [{"year":2020,"month":1,"date":1,"hours":19},{"year":2020,"month":1,"date":1,"hours":20},{"year":2020,"month":1,"date":1,"hours":21},{"year":2020,"month":1,"date":1,"hours":22},{"year":2020,"month":1,"date":1,"hours":23},{"year":2020,"month":1,"date":2,"hours":0}]}},
                  "y": {"field": "v", "type": "quantitative", "axis": {"orient": "right", "title": null, "labels": false, "tickSize": -31, "values": [0, 1000, 2000, 3000, 4000, 5000, 6000]}}}},
    {"data": {"values": [{"t": "2020-01-01T20:00:00", "v": 100}]}, "mark": {"type": "point", "opacity": 0},
     "encoding": {"x": {"field": "t", "type": "temporal", "axis": {"orient": "top", "title": null, "labels": false, "tickSize": -6, "values": [{"year":2020,"month":1,"date":1,"hours":18,"minutes":30},{"year":2020,"month":1,"date":1,"hours":18,"minutes":45},{"year":2020,"month":1,"date":1,"hours":19,"minutes":15},{"year":2020,"month":1,"date":1,"hours":19,"minutes":30},{"year":2020,"month":1,"date":1,"hours":19,"minutes":45},{"year":2020,"month":1,"date":1,"hours":20,"minutes":15},{"year":2020,"month":1,"date":1,"hours":20,"minutes":30},{"year":2020,"month":1,"date":1,"hours":20,"minutes":45},{"year":2020,"month":1,"date":1,"hours":21,"minutes":15},{"year":2020,"month":1,"date":1,"hours":21,"minutes":30},{"year":2020,"month":1,"date":1,"hours":21,"minutes":45},{"year":2020,"month":1,"date":1,"hours":22,"minutes":15},{"year":2020,"month":1,"date":1,"hours":22,"minutes":30},{"year":2020,"month":1,"date":1,"hours":22,"minutes":45},{"year":2020,"month":1,"date":1,"hours":23,"minutes":15},{"year":2020,"month":1,"date":1,"hours":23,"minutes":30},{"year":2020,"month":1,"date":1,"hours":23,"minutes":45},{"year":2020,"month":1,"date":2,"hours":0,"minutes":15}]}},
                  "y": {"field": "v", "type": "quantitative", "axis": {"orient": "right", "title": null, "labels": false, "tickSize": -16, "values": [0,200,400,600,800,1000,1200,1400,1600,1800,2000,2200,2400,2600,2800,3000,3200,3400,3600,3800,4000,4200,4400,4600,4800,5000,5200,5400,5600,5800,6000]}}}}
  ]
},
{
  "width": 1150, "height": 222,
  "resolve": {"axis": {"x": "independent", "y": "independent"}},
  "layer": [
    {"data": {"values": [
      {"t":"2020-01-01T18:28:00","v":47.9},{"t":"2020-01-01T19:39:30","v":47.9},{"t":"2020-01-01T19:39:40","v":53.6},{"t":"2020-01-01T21:11:50","v":53.6},{"t":"2020-01-01T21:12:30","v":0.6},{"t":"2020-01-01T21:12:40","v":0},{"t":"2020-01-02T00:27:20","v":0}
     ]},
     "mark": {"type": "line", "color": "#2a2aff", "strokeWidth": 1.8},
     "encoding": {
       "x": {"field": "t", "type": "temporal",
             "scale": {"domain": [{"year": 2020, "month": 1, "date": 1, "hours": 18, "minutes": 28}, {"year": 2020, "month": 1, "date": 2, "hours": 0, "minutes": 27, "seconds": 30}]},
             "axis": {"orient": "bottom", "title": null, "format": "%H:%M", "values": [{"year":2020,"month":1,"date":1,"hours":19},{"year":2020,"month":1,"date":1,"hours":20},{"year":2020,"month":1,"date":1,"hours":21},{"year":2020,"month":1,"date":1,"hours":22},{"year":2020,"month":1,"date":1,"hours":23},{"year":2020,"month":1,"date":2,"hours":0}], "ticks": false, "labelPadding": -1}},
       "y": {"field": "v", "type": "quantitative", "scale": {"domain": [-5.4, 59.2], "zero": false, "nice": false},
             "axis": {"orient": "left", "title": "[kV]", "values": [0, 10, 20, 30, 40, 50], "format": "d", "ticks": false, "labelPadding": 10, "titleX": -91, "titleY": 0, "titleAlign": "right", "titleBaseline": "bottom", "titleAngle": -90}}}},
    {"data": {"values": [
      {"t":"2020-01-01T18:28:00","v":47.9,"seg":"a"},{"t":"2020-01-01T19:39:20","v":47.9,"seg":"a"},
      {"t":"2020-01-01T19:39:50","v":53.6,"seg":"b"},{"t":"2020-01-01T21:11:40","v":53.6,"seg":"b"},
      {"t":"2020-01-01T21:12:50","v":0,"seg":"c"},{"t":"2020-01-02T00:27:20","v":0,"seg":"c"}
     ]},
     "mark": {"type": "line", "color": "#ff00ff", "strokeWidth": 2.8},
     "encoding": {"x": {"field": "t", "type": "temporal", "axis": null}, "y": {"field": "v", "type": "quantitative", "axis": null}, "detail": {"field": "seg"}}},
    {"data": {"values": [{"t":"2020-01-01T21:12:10","v":3.9}]},
     "mark": {"type": "point", "color": "#ff00ff", "filled": true, "size": 10, "opacity": 1},
     "encoding": {"x": {"field": "t", "type": "temporal", "axis": null}, "y": {"field": "v", "type": "quantitative", "axis": null}}},
    {"data": {"values": [{"t": "2020-01-01T20:00:00", "v": 10}]}, "mark": {"type": "point", "opacity": 0},
     "encoding": {"x": {"field": "t", "type": "temporal", "axis": {"orient": "bottom", "title": null, "labels": false, "tickSize": -12, "values": [{"year":2020,"month":1,"date":1,"hours":19},{"year":2020,"month":1,"date":1,"hours":20},{"year":2020,"month":1,"date":1,"hours":21},{"year":2020,"month":1,"date":1,"hours":22},{"year":2020,"month":1,"date":1,"hours":23},{"year":2020,"month":1,"date":2,"hours":0}]}},
                  "y": {"field": "v", "type": "quantitative", "axis": {"orient": "left", "title": null, "labels": false, "tickSize": -31, "values": [0, 10, 20, 30, 40, 50]}}}},
    {"data": {"values": [{"t": "2020-01-01T20:00:00", "v": 10}]}, "mark": {"type": "point", "opacity": 0},
     "encoding": {"x": {"field": "t", "type": "temporal", "axis": {"orient": "bottom", "title": null, "labels": false, "tickSize": -6, "values": [{"year":2020,"month":1,"date":1,"hours":18,"minutes":30},{"year":2020,"month":1,"date":1,"hours":18,"minutes":45},{"year":2020,"month":1,"date":1,"hours":19,"minutes":15},{"year":2020,"month":1,"date":1,"hours":19,"minutes":30},{"year":2020,"month":1,"date":1,"hours":19,"minutes":45},{"year":2020,"month":1,"date":1,"hours":20,"minutes":15},{"year":2020,"month":1,"date":1,"hours":20,"minutes":30},{"year":2020,"month":1,"date":1,"hours":20,"minutes":45},{"year":2020,"month":1,"date":1,"hours":21,"minutes":15},{"year":2020,"month":1,"date":1,"hours":21,"minutes":30},{"year":2020,"month":1,"date":1,"hours":21,"minutes":45},{"year":2020,"month":1,"date":1,"hours":22,"minutes":15},{"year":2020,"month":1,"date":1,"hours":22,"minutes":30},{"year":2020,"month":1,"date":1,"hours":22,"minutes":45},{"year":2020,"month":1,"date":1,"hours":23,"minutes":15},{"year":2020,"month":1,"date":1,"hours":23,"minutes":30},{"year":2020,"month":1,"date":1,"hours":23,"minutes":45},{"year":2020,"month":1,"date":2,"hours":0,"minutes":15}]}},
                  "y": {"field": "v", "type": "quantitative", "axis": {"orient": "left", "title": null, "labels": false, "tickSize": -16, "values": [-4,-2,0,2,4,6,8,10,12,14,16,18,20,22,24,26,28,30,32,34,36,38,40,42,44,46,48,50,52,54,56,58]}}}},
    {"data": {"values": [{"t": "2020-01-01T20:00:00", "v": 10}]}, "mark": {"type": "point", "opacity": 0},
     "encoding": {"x": {"field": "t", "type": "temporal", "axis": {"orient": "top", "title": null, "labels": false, "tickSize": -13, "values": [{"year":2020,"month":1,"date":1,"hours":19},{"year":2020,"month":1,"date":1,"hours":20},{"year":2020,"month":1,"date":1,"hours":21},{"year":2020,"month":1,"date":1,"hours":22},{"year":2020,"month":1,"date":1,"hours":23},{"year":2020,"month":1,"date":2,"hours":0}]}},
                  "y": {"field": "v", "type": "quantitative", "axis": {"orient": "right", "title": null, "labels": false, "tickSize": -31, "values": [0, 10, 20, 30, 40, 50]}}}},
    {"data": {"values": [{"t": "2020-01-01T20:00:00", "v": 10}]}, "mark": {"type": "point", "opacity": 0},
     "encoding": {"x": {"field": "t", "type": "temporal", "axis": {"orient": "top", "title": null, "labels": false, "tickSize": -6, "values": [{"year":2020,"month":1,"date":1,"hours":18,"minutes":30},{"year":2020,"month":1,"date":1,"hours":18,"minutes":45},{"year":2020,"month":1,"date":1,"hours":19,"minutes":15},{"year":2020,"month":1,"date":1,"hours":19,"minutes":30},{"year":2020,"month":1,"date":1,"hours":19,"minutes":45},{"year":2020,"month":1,"date":1,"hours":20,"minutes":15},{"year":2020,"month":1,"date":1,"hours":20,"minutes":30},{"year":2020,"month":1,"date":1,"hours":20,"minutes":45},{"year":2020,"month":1,"date":1,"hours":21,"minutes":15},{"year":2020,"month":1,"date":1,"hours":21,"minutes":30},{"year":2020,"month":1,"date":1,"hours":21,"minutes":45},{"year":2020,"month":1,"date":1,"hours":22,"minutes":15},{"year":2020,"month":1,"date":1,"hours":22,"minutes":30},{"year":2020,"month":1,"date":1,"hours":22,"minutes":45},{"year":2020,"month":1,"date":1,"hours":23,"minutes":15},{"year":2020,"month":1,"date":1,"hours":23,"minutes":30},{"year":2020,"month":1,"date":1,"hours":23,"minutes":45},{"year":2020,"month":1,"date":2,"hours":0,"minutes":15}]}},
                  "y": {"field": "v", "type": "quantitative", "axis": {"orient": "right", "title": null, "labels": false, "tickSize": -16, "values": [-4,-2,0,2,4,6,8,10,12,14,16,18,20,22,24,26,28,30,32,34,36,38,40,42,44,46,48,50,52,54,56,58]}}}}
  ]
}
]
}
